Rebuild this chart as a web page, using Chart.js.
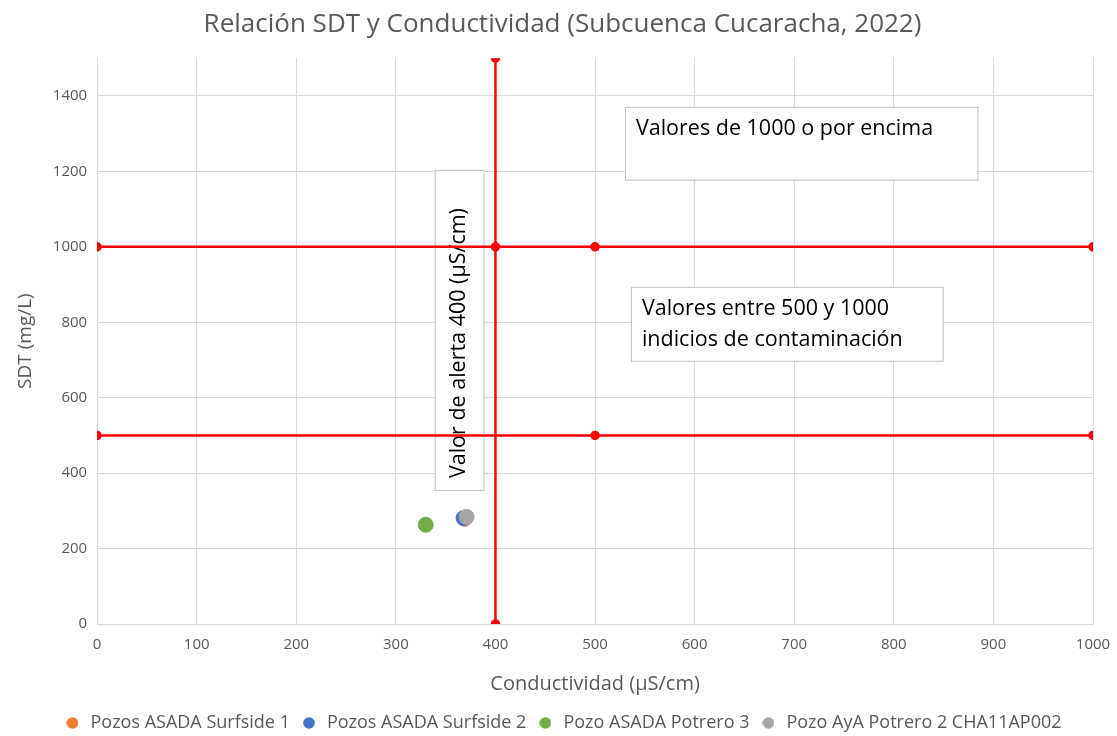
<!DOCTYPE html>
<html>
<head>
<meta charset="utf-8">
<script src="https://cdn.jsdelivr.net/npm/chart.js@4"></script>
<style>
  html, body { margin: 0; padding: 0; background: #fff; }
  #wrap { width: 1117px; height: 736px; }
</style>
</head>
<body>
<div id="wrap"><canvas id="chart"></canvas></div>
<script>
// puntos de los pozos (conductividad uS/cm, SDT mg/L)
const seriesNames = ['Pozos ASADA Surfside 1', 'Pozos ASADA Surfside 2', 'Pozo ASADA Potrero 3', 'Pozo AyA Potrero 2 CHA11AP002'];
const seriesColors = ['#ED7D31', '#4472C4', '#70AD47', '#A5A5A5'];
const conductividad = [369, 368, 330, 371];
const sdt = [279, 281, 263, 284];

// lineas de referencia
const line1000X = [0, 400, 500, 1000];
const line1000Y = [1000, 1000, 1000, 1000];
const line500X = [0, 500, 1000];
const line500Y = [500, 500, 500];
const alertX = [400, 400];
const alertY = [0, 1500];

// cuadros de texto (en unidades de datos)
const notes = [
  { x0: 530, x1: 884, y0: 1371, y1: 1178, lines: ['Valores de 1000 o por encima'], rotate: false },
  { x0: 536, x1: 849, y0: 894, y1: 698, lines: ['Valores entre 500 y 1000', 'indicios de contaminación'], rotate: false },
  { x0: 339, x1: 388, y0: 1204, y1: 355, lines: ['Valor de alerta 400 (µS/cm)'], rotate: true }
];

const FONT = "'Open Sans', 'Noto Sans', sans-serif";
const TXT = '#595959';

// marcadores redondos para la leyenda
function dot(color) {
  const c = document.createElement('canvas');
  c.width = 12; c.height = 12;
  const g = c.getContext('2d');
  g.fillStyle = color;
  g.beginPath();
  g.arc(6, 6, 5.8, 0, Math.PI * 2);
  g.fill();
  return c;
}
const legendDots = seriesColors.map(dot);

const datasets = seriesNames.map((name, i) => ({
  label: name,
  data: [{ x: conductividad[i], y: sdt[i] }],
  backgroundColor: seriesColors[i],
  borderColor: seriesColors[i],
  pointRadius: 7.5,
  pointHoverRadius: 7.5,
  showLine: false,
  order: seriesNames.length - i
}));

function redLine(xs, ys) {
  return {
    label: '',
    data: xs.map((x, i) => ({ x: x, y: ys[i] })),
    showLine: true,
    borderColor: '#FF0000',
    backgroundColor: '#FF0000',
    borderWidth: 2.5,
    pointRadius: 3.5,
    pointHoverRadius: 3.5,
    order: 10
  };
}
datasets.push(redLine(line1000X, line1000Y));
datasets.push(redLine(line500X, line500Y));
datasets.push(redLine(alertX, alertY));

const notesPlugin = {
  id: 'notes',
  beforeDatasetsDraw(chart) {
    const ctx = chart.ctx;
    const sx = chart.scales.x, sy = chart.scales.y;
    notes.forEach(n => {
      const l = sx.getPixelForValue(n.x0), r = sx.getPixelForValue(n.x1);
      const t = sy.getPixelForValue(n.y0), b = sy.getPixelForValue(n.y1);
      ctx.save();
      ctx.fillStyle = '#fff';
      ctx.strokeStyle = '#BFBFBF';
      ctx.lineWidth = 1;
      ctx.fillRect(l, t, r - l, b - t);
      ctx.strokeRect(l + 0.5, t + 0.5, r - l, b - t);
      ctx.fillStyle = '#000';
      ctx.font = '21.5px ' + FONT;
      ctx.textBaseline = 'middle';
      ctx.textAlign = 'left';
      if (n.rotate) {
        ctx.translate((l + r) / 2, b - 12);
        ctx.rotate(-Math.PI / 2);
        ctx.fillText(n.lines[0], 0, 0);
      } else {
        n.lines.forEach((s, k) => ctx.fillText(s, l + 11, t + 22 + k * 31));
      }
      ctx.restore();
    });
  }
};

new Chart(document.getElementById('chart'), {
  type: 'scatter',
  data: { datasets: datasets },
  plugins: [notesPlugin],
  options: {
    responsive: true,
    maintainAspectRatio: false,
    animation: false,
    layout: { padding: { left: 10, right: 2, top: 0, bottom: -6 } },
    plugins: {
      tooltip: { enabled: false },
      title: {
        display: true,
        text: 'Relación SDT y Conductividad (Subcuenca Cucaracha, 2022)',
        color: TXT,
        font: { family: FONT, size: 26, weight: 'normal' },
        padding: { top: 9, bottom: 18 }
      },
      legend: {
        position: 'bottom',
        labels: {
          usePointStyle: true,
          boxWidth: 18,
          boxHeight: 10,
          color: TXT,
          padding: 10,
          font: { family: FONT, size: 18 },
          filter: item => item.text !== '',
          sort: (a, b) => a.datasetIndex - b.datasetIndex,
          generateLabels: chart => Chart.defaults.plugins.legend.labels.generateLabels(chart)
            .map(item => Object.assign(item, { pointStyle: legendDots[item.datasetIndex] || 'circle' }))
        }
      }
    },
    scales: {
      x: {
        type: 'linear',
        min: 0,
        max: 1000,
        afterFit: axis => { axis.paddingRight = 24; },
        ticks: { stepSize: 100, color: TXT, font: { family: FONT, size: 15 }, padding: 12,
                 callback: v => String(v) },
        grid: { color: '#D9D9D9', drawTicks: false },
        border: { color: '#D9D9D9' },
        title: { display: true, text: 'Conductividad (µS/cm)', color: TXT, font: { family: FONT, size: 20 }, padding: { top: 6, bottom: 8 } }
      },
      y: {
        type: 'linear',
        min: 0,
        max: 1500,
        afterBuildTicks: axis => { axis.ticks = axis.ticks.filter(t => t.value <= 1400); },
        ticks: { stepSize: 200, color: TXT, font: { family: FONT, size: 15 }, padding: 10,
                 callback: v => String(v) },
        grid: { color: '#D9D9D9', drawTicks: false },
        border: { display: false },
        title: { display: true, text: 'SDT (mg/L)', color: TXT, font: { family: FONT, size: 19 }, padding: { bottom: 6 } }
      }
    }
  }
});
</script>
</body>
</html>
